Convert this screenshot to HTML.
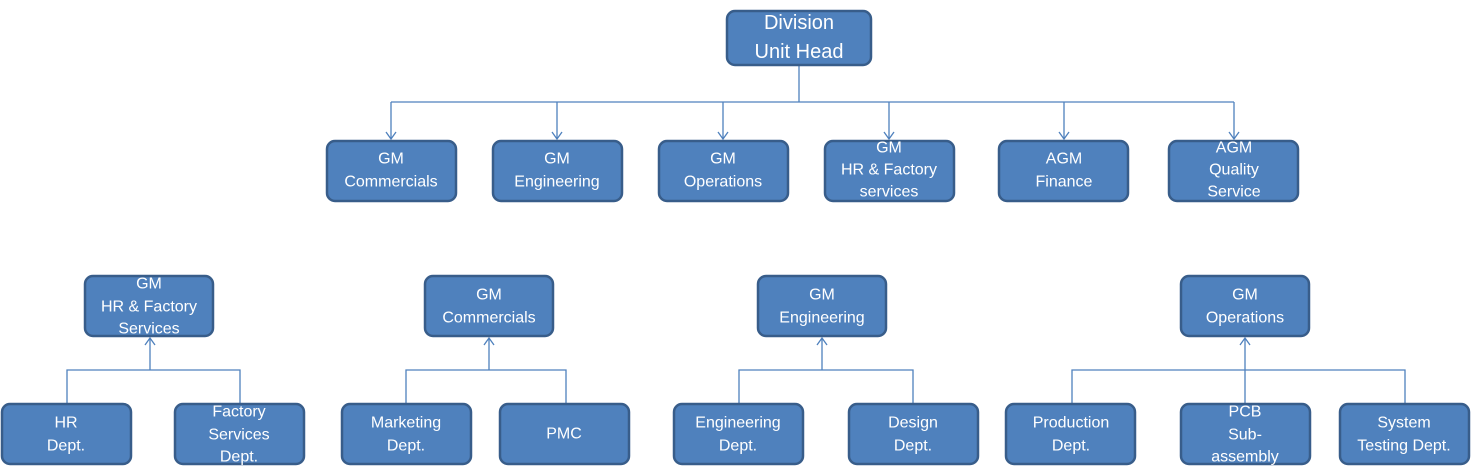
<!DOCTYPE html>
<html><head><meta charset="utf-8"><style>
html,body{margin:0;padding:0;background:#fff;}
svg{display:block;}
text{font-family:"Liberation Sans",sans-serif;fill:#fff;text-anchor:middle;dominant-baseline:central;font-size:16px;}
rect{fill:#4F81BD;stroke:#385D8A;stroke-width:2.5;}
.l{stroke:#4F81BD;stroke-width:1.3;fill:none;}
</style></head><body>
<svg width="1474" height="475" viewBox="0 0 1474 475">
<!-- connectors top -->
<path class="l" d="M799 65V102M391 102H1234M391 102V139M557 102V139M723 102V139M889 102V139M1064 102V139M1234 102V139"/>
<path class="l" d="M386 132L391 139L396 132M552 132L557 139L562 132M718 132L723 139L728 132M884 132L889 139L894 132M1059 132L1064 139L1069 132M1229 132L1234 139L1239 132"/>
<!-- bottom connectors -->
<path class="l" d="M67 404V370H240V404M150 370V338M145 345L150 338L155 345"/>
<path class="l" d="M406 404V370H566V404M489 370V338M484 345L489 338L494 345"/>
<path class="l" d="M739 404V370H913V404M822 370V338M817 345L822 338L827 345"/>
<path class="l" d="M1072 404V370H1405V404M1245 404V338M1240 345L1245 338L1250 345"/>

<rect x="727" y="11" width="144" height="54" rx="8"/>
<text x="799" y="23" style="font-size:20px">Division</text>
<text x="799" y="52" style="font-size:20px">Unit Head</text>

<rect x="327" y="141" width="129" height="60" rx="8"/><text x="391" y="159">GM</text><text x="391" y="182">Commercials</text>
<rect x="493" y="141" width="129" height="60" rx="8"/><text x="557" y="159">GM</text><text x="557" y="182">Engineering</text>
<rect x="659" y="141" width="129" height="60" rx="8"/><text x="723" y="159">GM</text><text x="723" y="182">Operations</text>
<rect x="825" y="141" width="129" height="60" rx="8"/><text x="889" y="148">GM</text><text x="889" y="170">HR &amp; Factory</text><text x="889" y="192">services</text>
<rect x="999" y="141" width="129" height="60" rx="8"/><text x="1064" y="159">AGM</text><text x="1064" y="182">Finance</text>
<rect x="1169" y="141" width="129" height="60" rx="8"/><text x="1234" y="148">AGM</text><text x="1234" y="170">Quality</text><text x="1234" y="192">Service</text>

<rect x="85" y="276" width="128" height="60" rx="8"/><text x="149" y="284">GM</text><text x="149" y="307">HR &amp; Factory</text><text x="149" y="329">Services</text>
<rect x="425" y="276" width="128" height="60" rx="8"/><text x="489" y="295">GM</text><text x="489" y="318">Commercials</text>
<rect x="758" y="276" width="128" height="60" rx="8"/><text x="822" y="295">GM</text><text x="822" y="318">Engineering</text>
<rect x="1181" y="276" width="128" height="60" rx="8"/><text x="1245" y="295">GM</text><text x="1245" y="318">Operations</text>

<rect x="2" y="404" width="129" height="60" rx="8"/><text x="66" y="423">HR</text><text x="66" y="446">Dept.</text>
<rect x="175" y="404" width="129" height="60" rx="8"/><text x="239" y="412">Factory</text><text x="239" y="435">Services</text><text x="239" y="457">Dept.</text>
<rect x="342" y="404" width="129" height="60" rx="8"/><text x="406" y="423">Marketing</text><text x="406" y="446">Dept.</text>
<rect x="500" y="404" width="129" height="60" rx="8"/><text x="564" y="434">PMC</text>
<rect x="674" y="404" width="129" height="60" rx="8"/><text x="738" y="423">Engineering</text><text x="738" y="446">Dept.</text>
<rect x="849" y="404" width="129" height="60" rx="8"/><text x="913" y="423">Design</text><text x="913" y="446">Dept.</text>
<rect x="1006" y="404" width="129" height="60" rx="8"/><text x="1071" y="423">Production</text><text x="1071" y="446">Dept.</text>
<rect x="1181" y="404" width="129" height="60" rx="8"/><text x="1245" y="412">PCB</text><text x="1245" y="435">Sub-</text><text x="1245" y="457">assembly</text>
<rect x="1340" y="404" width="129" height="60" rx="8"/><text x="1404" y="423">System</text><text x="1404" y="446">Testing Dept.</text>
</svg>
</body></html>
